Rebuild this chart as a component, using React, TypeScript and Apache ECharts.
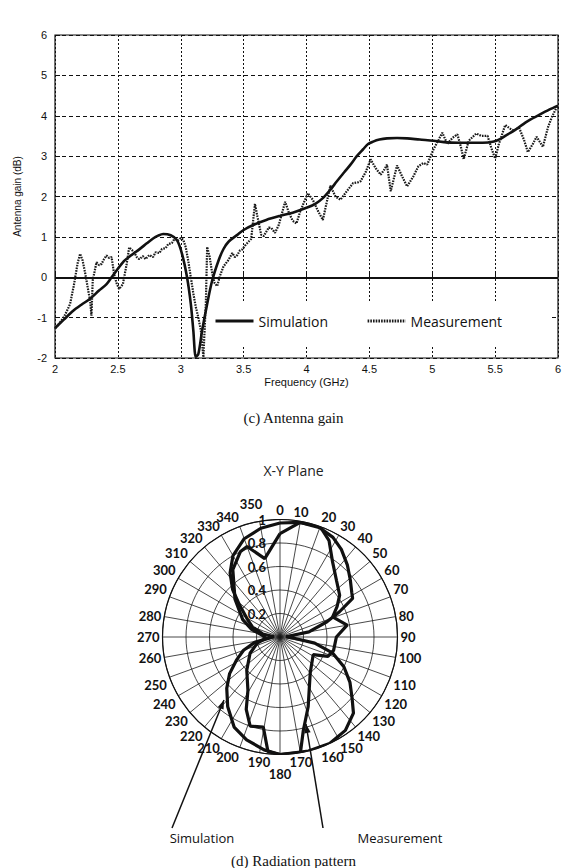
import React, { useEffect, useRef } from "react";
import * as echarts from "echarts";

// ---------- (c) Antenna gain ----------
const freqTickMin = 2;
const freqTickMax = 6;
const gainTickMin = -2;
const gainTickMax = 6;

const simFreq = [2.0, 2.07, 2.145, 2.21, 2.276, 2.35, 2.41, 2.45, 2.54, 2.6, 2.67, 2.73, 2.78, 2.82, 2.86, 2.92, 2.97, 3.01, 3.05, 3.08, 3.1, 3.12, 3.14, 3.17, 3.21, 3.25, 3.3, 3.34, 3.38, 3.45, 3.5, 3.58, 3.68, 3.79, 3.89, 4.0, 4.07, 4.13, 4.19, 4.24, 4.3, 4.35, 4.4, 4.45, 4.49, 4.53, 4.58, 4.64, 4.72, 4.8, 4.9, 5.01, 5.12, 5.25, 5.4, 5.49, 5.55, 5.6, 5.65, 5.75, 5.85, 5.93, 6.0];
const simGain = [-1.26, -1.05, -0.83, -0.68, -0.54, -0.33, -0.17, 0.0, 0.37, 0.53, 0.69, 0.84, 0.96, 1.03, 1.07, 1.04, 0.92, 0.58, 0.0, -0.66, -1.32, -1.97, -1.9, -1.32, -0.66, -0.08, 0.41, 0.7, 0.88, 1.05, 1.17, 1.3, 1.42, 1.52, 1.6, 1.72, 1.82, 1.96, 2.17, 2.37, 2.6, 2.79, 3.0, 3.17, 3.3, 3.36, 3.41, 3.44, 3.45, 3.44, 3.41, 3.38, 3.34, 3.33, 3.33, 3.36, 3.44, 3.54, 3.63, 3.85, 4.02, 4.15, 4.25];

const measFreq = [2.0, 2.04, 2.07, 2.1, 2.12, 2.15, 2.18, 2.2, 2.22, 2.24, 2.26, 2.28, 2.29, 2.3, 2.33, 2.35, 2.37, 2.39, 2.41, 2.43, 2.45, 2.47, 2.49, 2.51, 2.54, 2.57, 2.59, 2.61, 2.63, 2.65, 2.67, 2.7, 2.72, 2.75, 2.78, 2.8, 2.83, 2.85, 2.88, 2.9, 2.93, 2.95, 2.98, 3.0, 3.02, 3.04, 3.06, 3.08, 3.1, 3.12, 3.14, 3.16, 3.18, 3.2, 3.21, 3.23, 3.25, 3.27, 3.29, 3.31, 3.34, 3.36, 3.38, 3.41, 3.43, 3.45, 3.47, 3.49, 3.51, 3.53, 3.56, 3.59, 3.61, 3.64, 3.66, 3.7, 3.72, 3.75, 3.78, 3.83, 3.86, 3.89, 3.92, 3.95, 4.01, 4.05, 4.09, 4.13, 4.19, 4.23, 4.27, 4.32, 4.37, 4.41, 4.43, 4.47, 4.51, 4.55, 4.59, 4.62, 4.64, 4.67, 4.72, 4.76, 4.8, 4.85, 4.89, 4.93, 4.96, 5.01, 5.05, 5.08, 5.12, 5.16, 5.2, 5.23, 5.25, 5.29, 5.35, 5.39, 5.44, 5.47, 5.5, 5.53, 5.58, 5.62, 5.65, 5.69, 5.73, 5.76, 5.8, 5.83, 5.88, 5.92, 5.95, 5.98, 6.0];
const measGain = [-1.28, -1.12, -0.99, -0.8, -0.66, -0.2, 0.35, 0.58, 0.41, 0.1, -0.25, -0.6, -0.95, -0.08, 0.37, 0.3, 0.33, 0.45, 0.54, 0.48, 0.5, 0.08, -0.15, -0.29, -0.17, 0.33, 0.74, 0.68, 0.62, 0.5, 0.45, 0.52, 0.45, 0.55, 0.5, 0.62, 0.6, 0.7, 0.72, 0.82, 0.85, 0.95, 0.92, 0.97, 0.93, 0.74, 0.4, 0.0, -0.4, -0.74, -1.0, -1.32, -1.98, -0.6, 0.75, 0.5, 0.1, -0.15, -0.22, 0.02, 0.27, 0.35, 0.43, 0.6, 0.5, 0.55, 0.66, 0.69, 0.78, 0.85, 0.95, 1.82, 1.5, 1.05, 1.02, 1.23, 1.22, 1.1, 1.3, 1.87, 1.6, 1.4, 1.33, 1.63, 2.08, 1.92, 1.65, 1.42, 2.27, 2.0, 1.92, 2.13, 2.33, 2.35, 2.38, 2.6, 2.92, 2.7, 2.54, 2.67, 2.79, 2.13, 2.77, 2.5, 2.25, 2.5, 2.75, 2.83, 2.79, 3.17, 3.4, 3.58, 3.3, 3.45, 3.54, 3.2, 2.92, 3.38, 3.56, 3.5, 3.5, 3.2, 2.94, 3.3, 3.77, 3.68, 3.63, 3.71, 3.4, 3.1, 3.3, 3.48, 3.23, 3.71, 3.96, 4.15, 4.25];

// ---------- (d) Radiation pattern (X-Y plane) ----------
const simAngle = [0, 10, 20, 28, 35, 43, 51, 58, 62, 67, 72, 80, 88, 95, 100, 107, 115, 123, 130, 136, 145, 155, 166, 180, 188, 198, 207, 217, 226, 234, 242, 250, 258, 266, 272, 280, 290, 299, 309, 315, 322, 330, 340, 350, 360];
const simRadius = [0.97, 0.99, 0.99, 0.96, 0.91, 0.84, 0.77, 0.72, 0.7, 0.55, 0.42, 0.25, 0.05, 0.12, 0.3, 0.47, 0.6, 0.71, 0.8, 0.9, 0.97, 1.0, 1.0, 1.0, 0.97, 0.92, 0.86, 0.74, 0.63, 0.53, 0.42, 0.33, 0.22, 0.08, 0.05, 0.15, 0.25, 0.32, 0.45, 0.57, 0.69, 0.8, 0.89, 0.94, 0.97];

const measAngle = [0, 10, 20, 27, 35, 45, 55, 62, 69, 80, 90, 104, 112, 118, 140, 158, 166, 170, 180, 186, 190.5, 198.5, 205, 211, 225, 241.5, 255, 265, 275, 285, 295, 310, 325, 335, 340, 349, 360];
const measRadius = [0.88, 0.99, 1.0, 0.92, 0.78, 0.68, 0.62, 0.55, 0.48, 0.58, 0.48, 0.47, 0.44, 0.32, 0.4, 0.64, 0.82, 1.0, 1.0, 0.98, 0.78, 0.8, 0.68, 0.53, 0.4, 0.29, 0.2, 0.12, 0.15, 0.25, 0.35, 0.5, 0.7, 0.8, 0.82, 0.68, 0.88];

function zip(a: number[], b: number[]) {
  return a.map((v, i) => [v, b[i]]);
}

function arrowHead(tx: number, ty: number, fx: number, fy: number, len = 9, half = 3.2) {
  const dx = tx - fx;
  const dy = ty - fy;
  const d = Math.sqrt(dx * dx + dy * dy);
  const ux = dx / d;
  const uy = dy / d;
  const bx = tx - ux * len;
  const by = ty - uy * len;
  return [
    [tx, ty],
    [bx - uy * half, by + ux * half],
    [bx + uy * half, by - ux * half],
  ];
}

export default function App() {
  const ref = useRef<HTMLDivElement>(null);

  useEffect(() => {
    if (!ref.current) return;
    const chart = echarts.init(ref.current, null, { renderer: "svg" });

    const simArrow = { fx: 172, fy: 828, tx: 224, ty: 700 };
    const measArrow = { fx: 323, fy: 828, tx: 306, ty: 724 };

    const angleLabelStyle = { fontFamily: "Lato", fontWeight: "bold", fontSize: 13, color: "#111" };

    const option: any = {
      animation: false,
      backgroundColor: "#ffffff",
      textStyle: { fontFamily: "Liberation Sans" },
      title: [
        {
          text: "(c) Antenna gain",
          left: "center",
          top: 405,
          textStyle: { fontFamily: "Liberation Serif", fontSize: 15, fontWeight: "normal", color: "#111" },
        },
        {
          text: "X-Y Plane",
          left: "center",
          top: 458,
          textStyle: { fontFamily: "Open Sans", fontSize: 14, fontWeight: "normal", color: "#222" },
        },
        {
          text: "(d) Radiation pattern",
          left: "center",
          top: 848,
          textStyle: { fontFamily: "Liberation Serif", fontSize: 15, fontWeight: "normal", color: "#111" },
        },
      ],
      grid: {
        left: 55,
        top: 35,
        width: 503,
        height: 323,
        show: true,
        borderColor: "#111",
        borderWidth: 1.2,
        backgroundColor: "transparent",
      },
      xAxis: {
        type: "value",
        min: freqTickMin,
        max: freqTickMax,
        interval: 0.5,
        name: "Frequency (GHz)",
        nameLocation: "middle",
        nameGap: 18,
        nameTextStyle: { fontSize: 11, color: "#111" },
        axisLine: { show: false },
        axisTick: { inside: true, length: 5, lineStyle: { color: "#111" } },
        axisLabel: { fontSize: 11, color: "#111", margin: 5 },
        splitLine: { show: true, lineStyle: { type: [2, 2], color: "#111", width: 1 } },
      },
      yAxis: {
        type: "value",
        min: gainTickMin,
        max: gainTickMax,
        interval: 1,
        name: "Antenna gain (dB)",
        nameLocation: "middle",
        nameGap: 33,
        nameTextStyle: { fontSize: 10, color: "#111" },
        axisLine: { show: false },
        axisTick: { inside: true, length: 5, lineStyle: { color: "#111" } },
        axisLabel: { fontSize: 11, color: "#111", margin: 8 },
        splitLine: { show: true, lineStyle: { type: [4, 3], color: "#111", width: 1 } },
      },
      legend: {
        data: ["Simulation", "Measurement"],
        left: 209,
        top: 301,
        padding: [13, 48, 17, 5],
        itemGap: 38,
        itemWidth: 38,
        itemHeight: 4,
        itemStyle: { opacity: 0 },
        lineStyle: { width: 3 },
        backgroundColor: "#ffffff",
        textStyle: { fontFamily: "Open Sans", fontSize: 14, color: "#111" },
      },
      polar: { center: [280, 637], radius: 117.5 },
      angleAxis: {
        type: "value",
        min: 0,
        max: 360,
        interval: 10,
        startAngle: 90,
        clockwise: true,
        axisLine: { lineStyle: { color: "#111", width: 1.2 } },
        axisTick: { show: false },
        axisLabel: {
          ...angleLabelStyle,
          margin: 3,
          formatter: (v: number) => (v === 180 ? "{low|180}" : v === 350 ? "{shift|350}" : String(v)),
          rich: {
            low: { ...angleLabelStyle, padding: [10, 0, 0, 0] },
            shift: { ...angleLabelStyle, padding: [0, 16, 8, 0] },
          },
        },
        splitLine: { show: true, lineStyle: { color: "#1a1a1a", width: 0.8 } },
      },
      radiusAxis: {
        type: "value",
        min: 0,
        max: 1,
        interval: 0.2,
        axisLine: { show: false },
        axisTick: { show: false },
        axisLabel: {
          fontFamily: "Lato",
          fontWeight: "bold",
          fontSize: 13,
          color: "#111",
          margin: 14,
          formatter: (v: number) => (v === 0 ? "" : v === 1 ? "1" : v.toFixed(1)),
        },
        splitLine: { show: true, lineStyle: { color: "#1a1a1a", width: 0.8 } },
      },
      graphic: [
        {
          type: "line",
          shape: { x1: simArrow.fx, y1: simArrow.fy, x2: simArrow.tx, y2: simArrow.ty },
          style: { stroke: "#111", lineWidth: 1.5 },
        },
        {
          type: "polygon",
          shape: { points: arrowHead(simArrow.tx, simArrow.ty, simArrow.fx, simArrow.fy) },
          style: { fill: "#111" },
        },
        {
          type: "line",
          shape: { x1: measArrow.fx, y1: measArrow.fy, x2: measArrow.tx, y2: measArrow.ty },
          style: { stroke: "#111", lineWidth: 1.5 },
        },
        {
          type: "polygon",
          shape: { points: arrowHead(measArrow.tx, measArrow.ty, measArrow.fx, measArrow.fy) },
          style: { fill: "#111" },
        },
        {
          type: "text",
          style: {
            text: "Simulation",
            x: 202,
            y: 838,
            align: "center",
            verticalAlign: "middle",
            fontFamily: "Open Sans",
            fontSize: 13,
            fill: "#111",
          },
        },
        {
          type: "text",
          style: {
            text: "Measurement",
            x: 400,
            y: 838,
            align: "center",
            verticalAlign: "middle",
            fontFamily: "Open Sans",
            fontSize: 13,
            fill: "#111",
          },
        },
      ],
      series: [
        {
          name: "Simulation",
          type: "line",
          xAxisIndex: 0,
          yAxisIndex: 0,
          data: zip(simFreq, simGain),
          symbol: "none",
          smooth: 0.3,
          lineStyle: { color: "#111", width: 2.6, type: "solid" },
          itemStyle: { color: "#111" },
          z: 3,
          markLine: {
            silent: true,
            symbol: "none",
            label: { show: false },
            lineStyle: { color: "#111", width: 2, type: "solid" },
            data: [{ yAxis: 0 }],
          },
        },
        {
          name: "Measurement",
          type: "line",
          xAxisIndex: 0,
          yAxisIndex: 0,
          data: zip(measFreq, measGain),
          symbol: "none",
          lineStyle: { color: "#1a1a1a", width: 2.2, type: [1.6, 1.1] },
          itemStyle: { color: "#1a1a1a" },
          z: 3,
        },
        {
          name: "Simulation pattern",
          type: "line",
          coordinateSystem: "polar",
          data: zip(simRadius, simAngle),
          symbol: "none",
          lineStyle: { color: "#111", width: 3.2 },
          z: 3,
        },
        {
          name: "Measurement pattern",
          type: "line",
          coordinateSystem: "polar",
          data: zip(measRadius, measAngle),
          symbol: "none",
          lineStyle: { color: "#111", width: 3.2 },
          z: 3,
        },
      ],
    };

    chart.setOption(option);
    return () => {
      chart.dispose();
    };
  }, []);

  return (
    <div
      ref={ref}
      style={{ position: "absolute", left: 0, top: 0, width: 587, height: 868, background: "#fff" }}
    />
  );
}
